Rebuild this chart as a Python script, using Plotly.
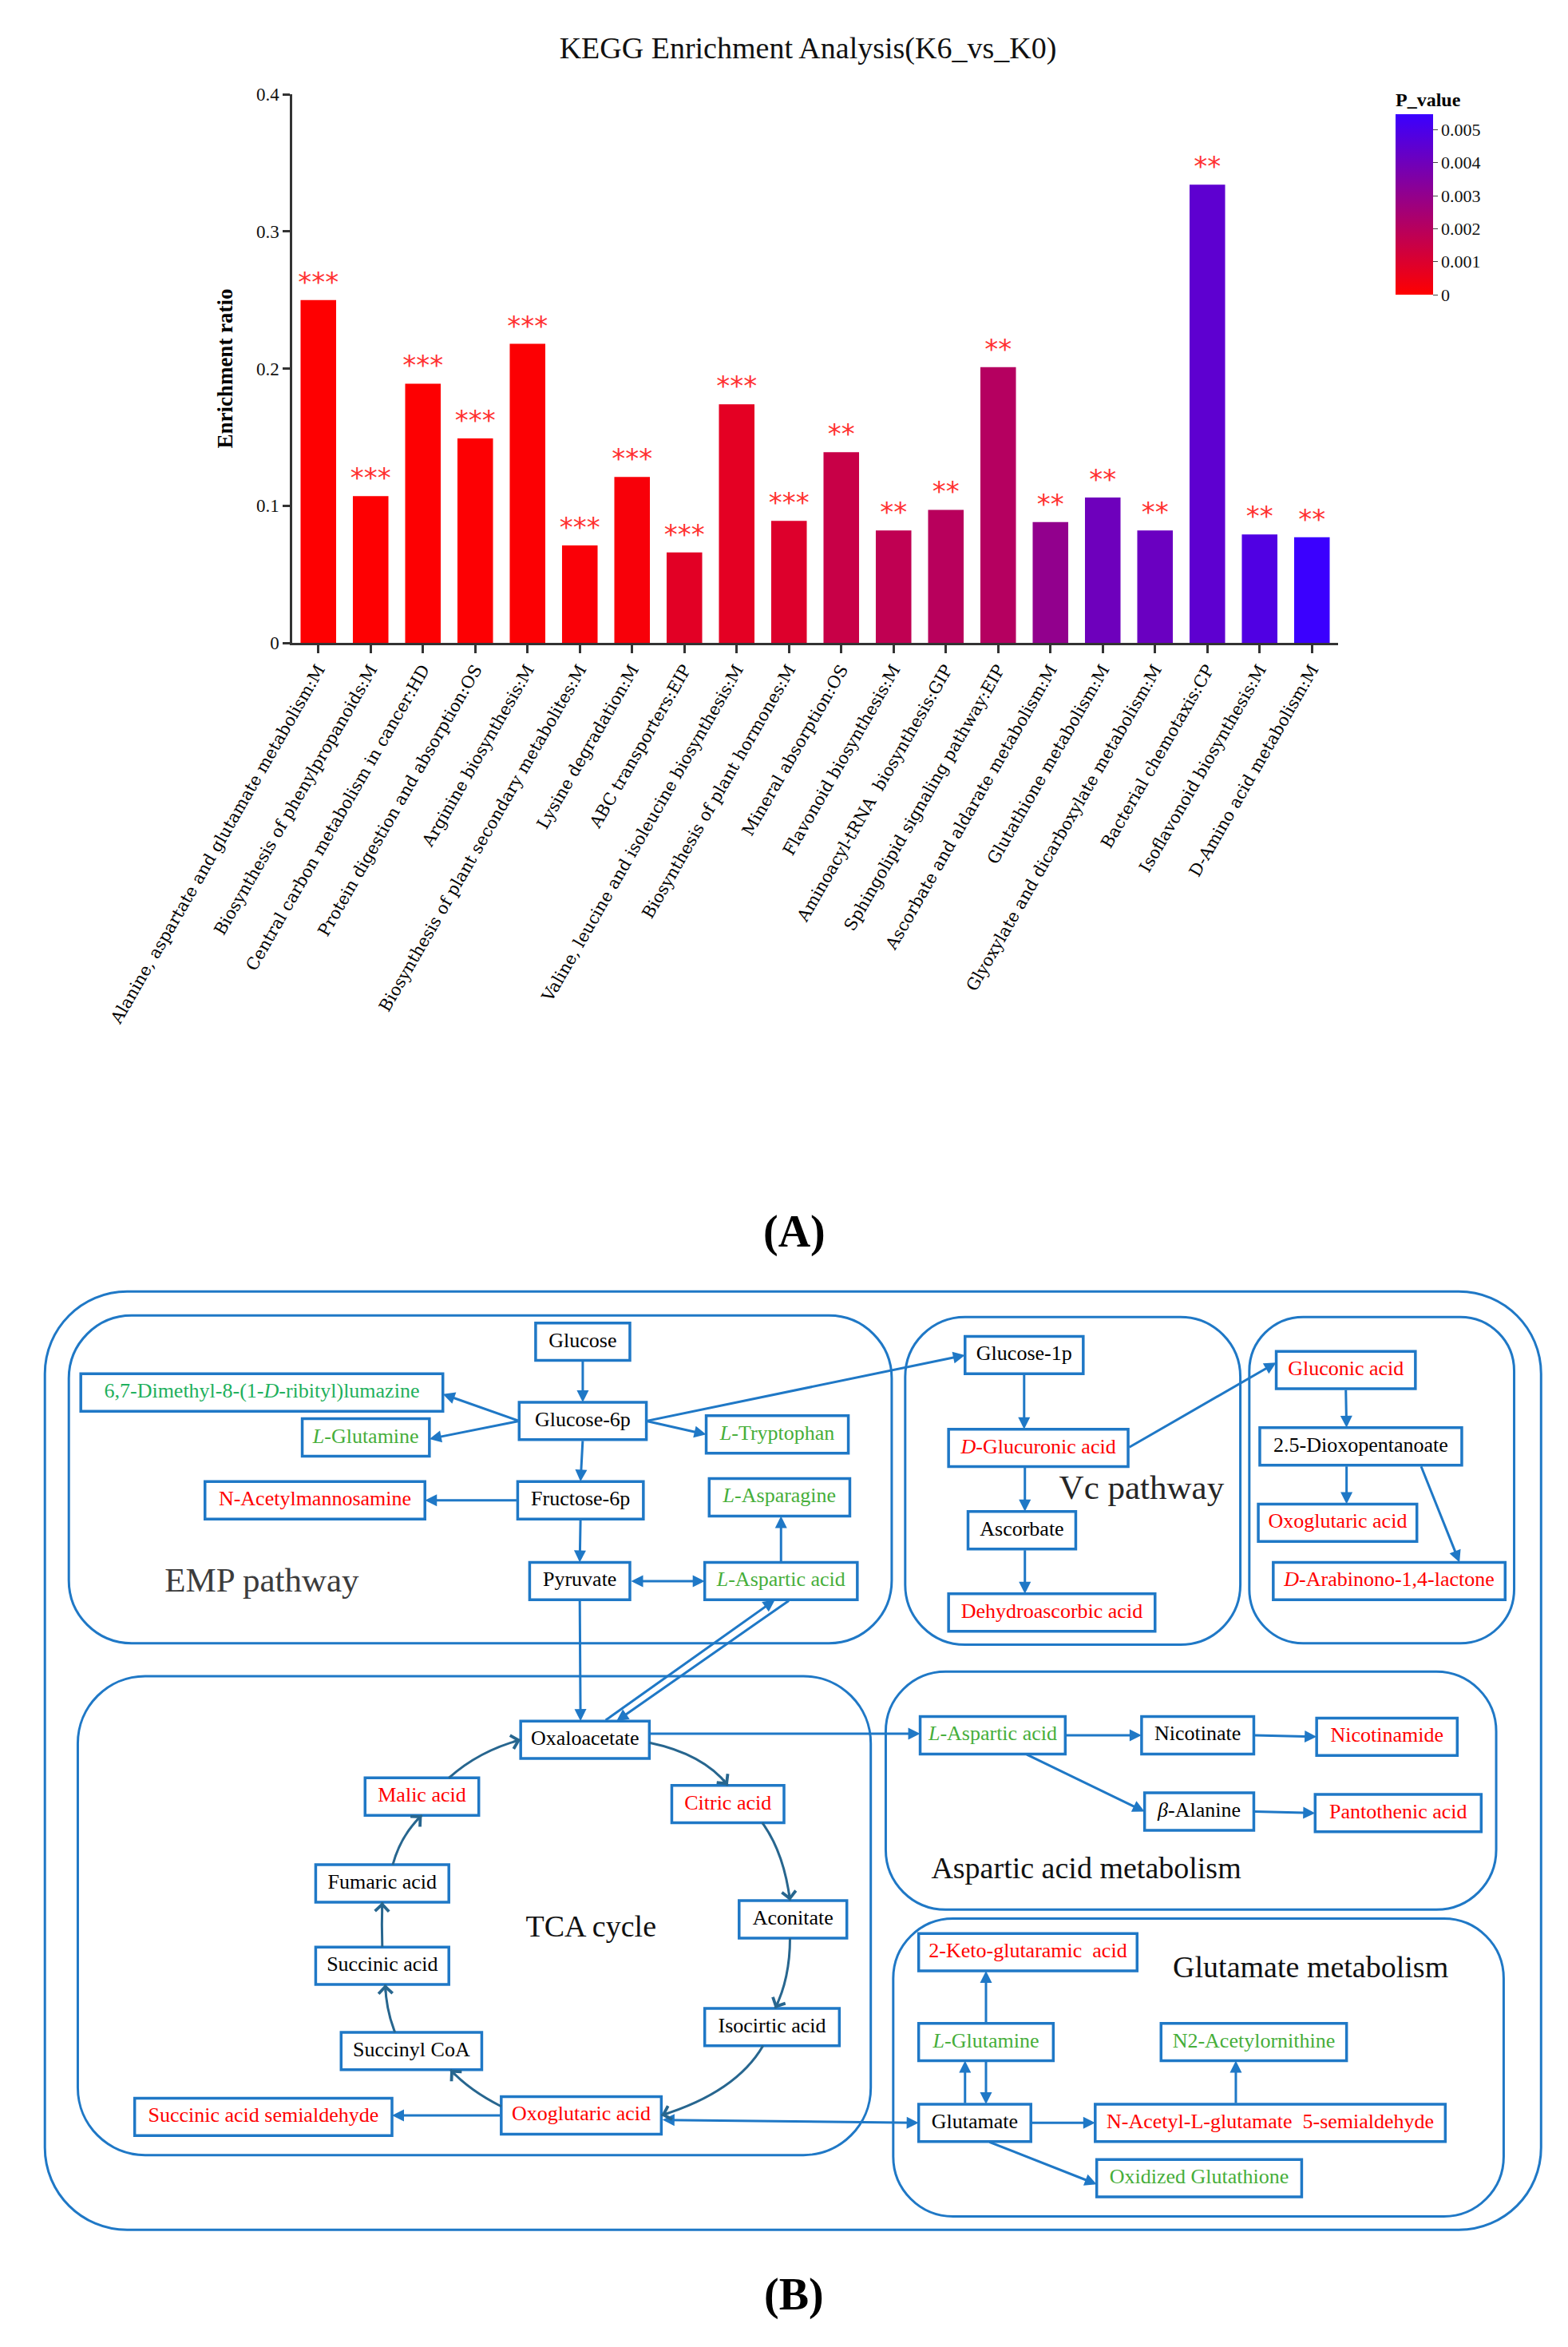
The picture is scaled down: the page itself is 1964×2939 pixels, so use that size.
import plotly.graph_objects as go
import math

W, H = 1964, 2939
S = W / 1048.0  # reference layout units -> pixels

# ---------------- Panel A data ----------------
categories = [
    "Alanine, aspartate and glutamate metabolism:M",
    "Biosynthesis of phenylpropanoids:M",
    "Central carbon metabolism in cancer:HD",
    "Protein digestion and absorption:OS",
    "Arginine biosynthesis:M",
    "Biosynthesis of plant secondary metabolites:M",
    "Lysine degradation:M",
    "ABC transporters:EIP",
    "Valine, leucine and isoleucine biosynthesis:M",
    "Biosynthesis of plant hormones:M",
    "Mineral absorption:OS",
    "Flavonoid biosynthesis:M",
    "Aminoacyl-tRNA  biosynthesis:GIP",
    "Sphingolipid signaling pathway:EIP",
    "Ascorbate and aldarate metabolism:M",
    "Glutathione metabolism:M",
    "Glyoxylate and dicarboxylate metabolism:M",
    "Bacterial chemotaxis:CP",
    "Isoflavonoid biosynthesis:M",
    "D-Amino acid metabolism:M",
]
enrichment = [0.250, 0.107, 0.189, 0.149, 0.218, 0.071, 0.121, 0.066, 0.174, 0.089,
              0.139, 0.082, 0.097, 0.201, 0.088, 0.106, 0.082, 0.334, 0.079, 0.077]
p_values = [0.00003, 0.00004, 0.00005, 0.00006, 0.00007, 0.00015, 0.00020, 0.00080, 0.00075, 0.00095,
            0.00153, 0.00175, 0.00197, 0.00205, 0.00302, 0.00403, 0.00414, 0.00447, 0.00486, 0.00545]
stars = ["***"] * 10 + ["**"] * 10
cbar_ticks = [0, 0.001, 0.002, 0.003, 0.004, 0.005]
cbar_labels = ["0", "0.001", "0.002", "0.003", "0.004", "0.005"]
y_ticks = [0, 0.1, 0.2, 0.3, 0.4]
y_labels = ["0", "0.1", "0.2", "0.3", "0.4"]

# ---------------- Panel B data ----------------
RED, BLK, GRN, GRN2 = "#FF0000", "#000000", "#46AE3A", "#1EB05C"
node_ids = ["glucose", "g6p", "lumazine", "gln1", "trp", "manac", "f6p", "asn", "pyr", "asp1",
            "g1p", "glcua", "asc", "dha", "gluconic", "dioxo", "oxo2", "arab",
            "oaa", "cit", "acon", "icit", "oxo1", "ssa", "scoa", "succ", "fum", "mal",
            "asp2", "nicot", "nicam", "bala", "pant",
            "keto", "gln2", "n2ac", "glu", "nacglu", "gssg"]
node_labels = ["Glucose", "Glucose-6p", "6,7-Dimethyl-8-(1-<i>D</i>-ribityl)lumazine", "<i>L</i>-Glutamine",
               "<i>L</i>-Tryptophan", "N-Acetylmannosamine", "Fructose-6p", "<i>L</i>-Asparagine",
               "Pyruvate", "<i>L</i>-Aspartic acid",
               "Glucose-1p", "<i>D</i>-Glucuronic acid", "Ascorbate", "Dehydroascorbic acid",
               "Gluconic acid", "2.5-Dioxopentanoate", "Oxoglutaric acid", "<i>D</i>-Arabinono-1,4-lactone",
               "Oxaloacetate", "Citric acid", "Aconitate", "Isocirtic acid", "Oxoglutaric acid",
               "Succinic acid semialdehyde", "Succinyl CoA", "Succinic acid", "Fumaric acid", "Malic acid",
               "<i>L</i>-Aspartic acid", "Nicotinate", "Nicotinamide", "<i>β</i>-Alanine", "Pantothenic acid",
               "2-Keto-glutaramic  acid", "<i>L</i>-Glutamine", "N2-Acetylornithine", "Glutamate",
               "N-Acetyl-L-glutamate  5-semialdehyde", "Oxidized Glutathione"]
node_colors = [BLK, BLK, GRN2, GRN, GRN, RED, BLK, GRN, BLK, GRN,
               BLK, RED, BLK, RED, RED, BLK, RED, RED,
               BLK, RED, BLK, BLK, RED, RED, BLK, BLK, BLK, RED,
               GRN, BLK, RED, BLK, RED,
               RED, GRN, GRN, BLK, RED, GRN]
region_labels = ["EMP pathway", "Vc pathway", "TCA cycle", "Aspartic acid metabolism", "Glutamate metabolism"]

# ---------------- Panel B layout (reference units) ----------------
geom = {
    "glucose": (389.5, 896.5, 63, 25), "g6p": (389.5, 949.5, 85, 25),
    "lumazine": (175, 930.5, 242, 25), "gln1": (244.5, 960.5, 85, 25),
    "trp": (519.5, 958.5, 95, 25), "manac": (210.5, 1002.5, 147, 25),
    "f6p": (388, 1002.5, 84, 25), "asn": (521, 1000.5, 94, 25),
    "pyr": (387.5, 1056.5, 67, 25), "asp1": (522, 1056.5, 102, 25),
    "g1p": (684.5, 905.5, 79, 25), "glcua": (694, 967.5, 120, 25),
    "asc": (683, 1022.5, 72, 25), "dha": (703, 1077.5, 138, 25),
    "gluconic": (899.5, 915.5, 93, 25), "dioxo": (909.5, 966.5, 135, 25),
    "oxo2": (894, 1017.5, 106, 25), "arab": (928.5, 1056.5, 155, 25),
    "oaa": (391, 1162.5, 86, 25), "cit": (486.5, 1205.5, 75, 25),
    "acon": (530, 1282.5, 72, 25), "icit": (516, 1354.5, 90, 25),
    "oxo1": (388.5, 1413.5, 107, 25), "ssa": (176, 1414.5, 172, 25),
    "scoa": (275, 1370.5, 94, 25), "succ": (255.5, 1313.5, 89, 25),
    "fum": (255.5, 1258.5, 89, 25), "mal": (282, 1200.5, 76, 25),
    "asp2": (663.5, 1159.5, 97, 25), "nicot": (800.5, 1159.5, 75, 25),
    "nicam": (927, 1160.5, 94, 25), "bala": (801.5, 1210.5, 73, 25),
    "pant": (934.5, 1211.5, 111, 25),
    "keto": (687, 1304.5, 146, 25), "gln2": (659, 1364.5, 90, 25),
    "n2ac": (838, 1364.5, 124, 25), "glu": (651.5, 1418.5, 75, 25),
    "nacglu": (849, 1418.5, 234, 25), "gssg": (801.5, 1455.5, 137, 25),
}
region_pos = [(175, 1058), (763, 996), (395, 1289), (726, 1250), (876, 1316)]
region_size = [43, 43, 38, 38, 38]
region_color = ["#3C3C3C", "#262626", "#111111", "#111111", "#111111"]
containers = [
    (30, 863, 1030, 1490, 55), (46, 879, 596, 1098, 42), (605, 880, 829, 1099, 40),
    (835, 880, 1012, 1098, 36), (52, 1120, 582, 1440, 45), (592, 1117, 1000, 1276, 40),
    (597, 1282, 1005, 1481, 40),
]
# straight edges: (from, side, offset, to, side, offset, both_ends)
edges = [
    ("glucose", "B", 0, "g6p", "T", 0, False),
    ("g6p", "L", 0, "lumazine", "R", 1, False),
    ("g6p", "L", 0, "gln1", "R", 1, False),
    ("g6p", "R", 0, "trp", "L", 0, False),
    ("g6p", "R", 0, "g1p", "L", 0, False),
    ("g6p", "B", 0, "f6p", "T", 0, False),
    ("f6p", "L", 0, "manac", "R", 0, False),
    ("f6p", "B", 0, "pyr", "T", 0, False),
    ("pyr", "R", 0, "asp1", "L", 0, True),
    ("asp1", "T", 0, "asn", "B", 1, False),
    ("pyr", "B", 0, "oaa", "T", -3, False),
    ("oaa", "T", 13, "asp1", "B", -4, False),
    ("asp1", "B", 6, "oaa", "T", 21, False),
    ("g1p", "B", 0, "glcua", "T", -9.5, False),
    ("glcua", "B", -9, "asc", "T", 2, False),
    ("asc", "B", 2, "dha", "T", -18, False),
    ("glcua", "R", 0, "gluconic", "L", -5, False),
    ("gluconic", "B", 0, "dioxo", "T", -9.5, False),
    ("dioxo", "B", -9.5, "oxo2", "T", 6, False),
    ("dioxo", "B", 40, "arab", "T", 47, False),
    ("oaa", "R", -4, "asp2", "L", -1, False),
    ("oxo1", "R", 3, "glu", "L", 0, True),
    ("oxo1", "L", 0, "ssa", "R", -1, False),
    ("asp2", "R", 0, "nicot", "L", 0, False),
    ("nicot", "R", 0, "nicam", "L", 0, False),
    ("asp2", "B", 22, "bala", "L", 0, False),
    ("bala", "R", 0, "pant", "L", 0, False),
    ("gln2", "T", 0, "keto", "B", -28, False),
    ("glu", "T", -6.5, "gln2", "B", -14, False),
    ("gln2", "B", 0, "glu", "T", 7.5, False),
    ("glu", "R", 0, "nacglu", "L", 0, False),
    ("nacglu", "T", -23, "n2ac", "B", -12, False),
    ("glu", "B", 9, "gssg", "L", 4, False),
]
# curved TCA edges: (from, side, offset, to, side, offset, control point)
curves = [
    ("oaa", "R", 2, "cit", "T", 0, (470, 1172)),
    ("cit", "B", 23, "acon", "T", -2, (524, 1238)),
    ("acon", "B", -2, "icit", "T", 2, (528, 1322)),
    ("icit", "B", -6, "oxo1", "R", 0, (492, 1398)),
    ("oxo1", "L", -6, "scoa", "B", 26, (314, 1397)),
    ("scoa", "T", -11, "succ", "B", 2, (258, 1343)),
    ("succ", "T", 0, "fum", "B", 0, (255, 1286)),
    ("fum", "T", 7, "mal", "B", 0, (268, 1226)),
    ("mal", "T", 18, "oaa", "L", 0, (320, 1170)),
]

CBLUE = "#1F78C6"
CTEAL = "#27668F"


def P(v):
    return v * S


def anchor(nid, side, off=0.0):
    cx, cy, w, h = geom[nid]
    if side == "T":
        return cx + off, cy - h / 2
    if side == "B":
        return cx + off, cy + h / 2
    if side == "L":
        return cx - w / 2, cy + off
    return cx + w / 2, cy + off


def rrect(x0, y0, x1, y1, r):
    x0, y0, x1, y1, r = P(x0), P(y0), P(x1), P(y1), P(r)
    k = 0.5523 * r
    return (f"M {x0+r},{y0} L {x1-r},{y0} C {x1-r+k},{y0} {x1},{y0+r-k} {x1},{y0+r} "
            f"L {x1},{y1-r} C {x1},{y1-r+k} {x1-r+k},{y1} {x1-r},{y1} "
            f"L {x0+r},{y1} C {x0+r-k},{y1} {x0},{y1-r+k} {x0},{y1-r} "
            f"L {x0},{y0+r} C {x0},{y0+r-k} {x0+r-k},{y0} {x0+r},{y0} Z")


fig = go.Figure()

# ---------------- Panel A ----------------
fig.add_trace(go.Bar(
    x=categories, y=enrichment, width=0.68,
    marker=dict(color=p_values, cmin=0, cmax=0.00547,
                colorscale=[[0, "#FF0000"], [1, "#3A00FF"]],
                line=dict(width=0),
                colorbar=dict(
                    title=dict(text="<b>P_value</b>", side="top",
                               font=dict(family="Liberation Serif", size=24, color="#000")),
                    x=1748 / W, xanchor="left", xpad=0,
                    y=1 - 112 / H, yanchor="top", ypad=0,
                    len=(369 - 112) / H, lenmode="fraction",
                    thickness=47, thicknessmode="pixels", outlinewidth=0,
                    tickvals=cbar_ticks, ticktext=cbar_labels, ticks="outside",
                    ticklen=6, tickcolor="#444",
                    tickfont=dict(family="Liberation Serif", size=22, color="#111"))),
    text=stars, textposition="outside", constraintext="none", cliponaxis=False,
    textfont=dict(family="DejaVu Sans", size=34, color="#FF3030"),
    hoverinfo="skip", xaxis="x", yaxis="y", showlegend=False,
))

# ---------------- Panel B ----------------
shapes = []
for (x0, y0, x1, y1, r) in containers:
    shapes.append(dict(type="path", path=rrect(x0, y0, x1, y1, r), xref="x2", yref="y2",
                       line=dict(color=CBLUE, width=3), layer="below"))
for nid in node_ids:
    cx, cy, w, h = geom[nid]
    shapes.append(dict(type="rect", xref="x2", yref="y2",
                       x0=P(cx - w / 2), x1=P(cx + w / 2), y0=P(cy - h / 2), y1=P(cy + h / 2),
                       line=dict(color=CBLUE, width=3.5), fillcolor="white", layer="below"))

annotations = []
for (a, sa, oa, b, sb, ob, both) in edges:
    tx, ty = anchor(a, sa, oa)
    hx, hy = anchor(b, sb, ob)
    ann = dict(x=P(hx), y=P(hy), ax=P(tx), ay=P(ty), xref="x2", yref="y2", axref="x2", ayref="y2",
               text="", showarrow=True, arrowhead=2, arrowsize=1.0, arrowwidth=3, arrowcolor=CBLUE)
    if both:
        ann.update(arrowside="end+start", startarrowhead=2, startarrowsize=1.0)
    annotations.append(ann)

for (a, sa, oa, b, sb, ob, c) in curves:
    tx, ty = anchor(a, sa, oa)
    hx, hy = anchor(b, sb, ob)
    cx, cy = c
    shapes.append(dict(type="path", xref="x2", yref="y2", layer="below",
                       path=f"M {P(tx)},{P(ty)} Q {P(cx)},{P(cy)} {P(hx)},{P(hy)}",
                       line=dict(color=CTEAL, width=3)))
    dx, dy = hx - cx, hy - cy
    d = math.hypot(dx, dy)
    bx, by = hx - dx / d * 6, hy - dy / d * 6
    annotations.append(dict(x=P(hx), y=P(hy), ax=P(bx), ay=P(by), xref="x2", yref="y2",
                            axref="x2", ayref="y2", text="", showarrow=True, arrowhead=4,
                            arrowsize=1.3, arrowwidth=2.6, arrowcolor=CTEAL))

fig.add_trace(go.Scatter(
    x=[P(geom[n][0]) for n in node_ids], y=[P(geom[n][1]) for n in node_ids],
    text=node_labels, mode="text", textposition="middle center",
    textfont=dict(family="Liberation Serif", size=26, color=node_colors),
    hoverinfo="skip", showlegend=False, xaxis="x2", yaxis="y2"))
fig.add_trace(go.Scatter(
    x=[P(p[0]) for p in region_pos], y=[P(p[1]) for p in region_pos],
    text=region_labels, mode="text", textposition="middle center",
    textfont=dict(family="Liberation Serif", size=region_size, color=region_color),
    hoverinfo="skip", showlegend=False, xaxis="x2", yaxis="y2"))

annotations.append(dict(x=995 / W, y=1 - 1542 / H, xref="paper", yref="paper", text="<b>(A)</b>",
                        xanchor="center", yanchor="middle", showarrow=False,
                        font=dict(family="Liberation Serif", size=56, color="#000")))
annotations.append(dict(x=995 / W, y=1 - 2873 / H, xref="paper", yref="paper", text="<b>(B)</b>",
                        xanchor="center", yanchor="middle", showarrow=False,
                        font=dict(family="Liberation Serif", size=56, color="#000")))

DIAG_TOP = 1590
fig.update_layout(
    width=W, height=H, autosize=False,
    margin=dict(l=0, r=0, t=0, b=0, pad=0, autoexpand=False),
    paper_bgcolor="white", plot_bgcolor="white",
    title=dict(text="KEGG Enrichment Analysis(K6_vs_K0)", x=1012 / W, xanchor="center",
               y=1 - 60 / H, yanchor="middle", automargin=False,
               font=dict(family="Liberation Serif", size=38, color="#111")),
    xaxis=dict(domain=[366 / W, 1676 / W], range=[-0.5, 19.5], type="category", automargin=False,
               showline=True, linecolor="#333", linewidth=2.5, ticks="outside", ticklen=10,
               tickwidth=2.5, tickcolor="#333", tickangle=-60, showgrid=False, zeroline=False,
               tickfont=dict(family="DejaVu Serif", size=21, color="#000")),
    yaxis=dict(domain=[1 - 805 / H, 1 - 118 / H], range=[0, 0.4], showline=True, linecolor="#333",
               linewidth=2.5, ticks="outside", ticklen=9, tickwidth=2.5, tickcolor="#333",
               tickvals=y_ticks, ticktext=y_labels, showgrid=False, zeroline=False, automargin=False,
               tickfont=dict(family="Liberation Serif", size=23, color="#111"),
               title=dict(text="<b>Enrichment ratio</b>", standoff=22,
                          font=dict(family="Liberation Serif", size=27, color="#000"))),
    xaxis2=dict(domain=[0, 1], range=[0, W], visible=False, fixedrange=True, automargin=False),
    yaxis2=dict(domain=[0, 1 - DIAG_TOP / H], range=[H, DIAG_TOP], visible=False, fixedrange=True,
                automargin=False),
    shapes=shapes, annotations=annotations,
)

fig.write_html("out.html", post_script="document.body.style.margin='0';",
               config={"displayModeBar": False})
